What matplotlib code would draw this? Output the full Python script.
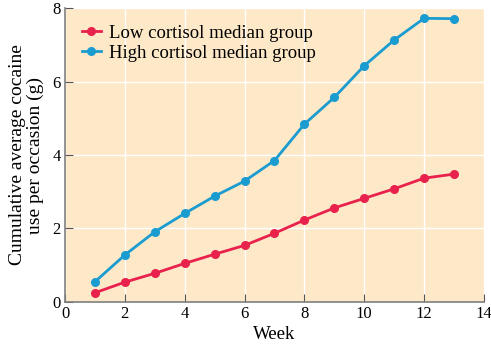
import matplotlib
matplotlib.use("Agg")
import matplotlib.pyplot as plt

weeks = list(range(1, 14))
low_cortisol = [0.25, 0.54, 0.78, 1.05, 1.30, 1.54, 1.87, 2.23, 2.56, 2.82, 3.08, 3.37, 3.48]
high_cortisol = [0.55, 1.28, 1.91, 2.41, 2.88, 3.29, 3.85, 4.84, 5.57, 6.43, 7.13, 7.72, 7.71]

x_ticks = [0, 2, 4, 6, 8, 10, 12, 14]
y_ticks = [0, 2, 4, 6, 8]

plt.rcParams["font.family"] = ["Liberation Serif", "DejaVu Serif"]

fig = plt.figure(figsize=(4.91, 3.49), dpi=100)
ax = fig.add_axes([0.1324, 0.1347, 0.8533, 0.8423])
ax.set_facecolor("#fde8c8")

ax.plot(weeks, low_cortisol, "-o", color="#e8224c", lw=2, ms=5.5,
        label="Low cortisol median group", zorder=3)
ax.plot(weeks, high_cortisol, "-o", color="#1b9cd0", lw=2, ms=5.5,
        label="High cortisol median group", zorder=3)

ax.set_xlim(0, 14)
ax.set_ylim(0, 8)
ax.set_xticks(x_ticks)
ax.set_yticks(y_ticks)
ax.grid(True, color="white", lw=1)
ax.set_axisbelow(True)

for side in ["top", "right"]:
    ax.spines[side].set_visible(False)
for side in ["left", "bottom"]:
    ax.spines[side].set_color("#7f7f7f")
    ax.spines[side].set_linewidth(1.2)
ax.tick_params(direction="in", length=6, color="#555555", labelsize=12, pad=3)

ax.set_xlabel("Week", fontsize=13.5, labelpad=3)
ax.set_ylabel("Cumulative average cocaine\nuse per occasion (g)", fontsize=14,
              labelpad=6, linespacing=1.05)

ax.legend(loc="upper left", frameon=False, fontsize=13.5, handlelength=1.0,
          handletextpad=0.45, labelspacing=0.15, borderaxespad=0.5,
          bbox_to_anchor=(0.0, 1.0))

fig.savefig("out.png", dpi=100)
